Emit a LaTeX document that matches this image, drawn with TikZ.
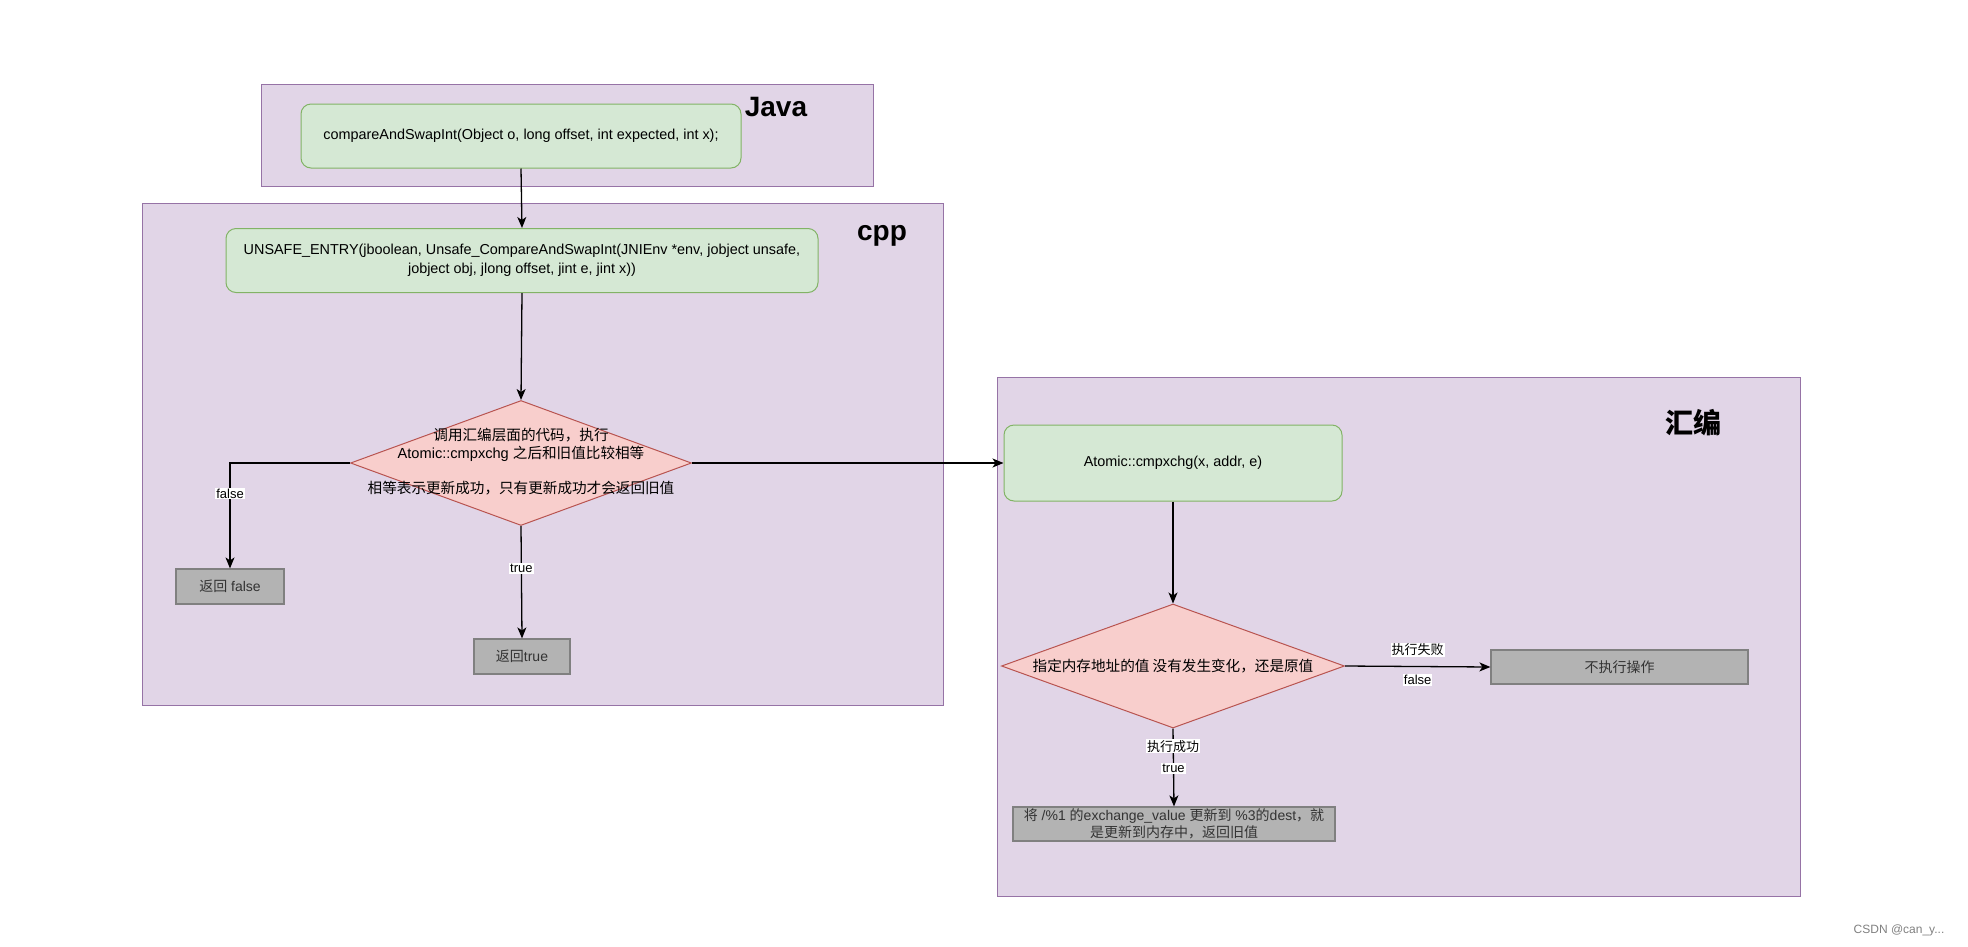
\documentclass[tikz,border=0pt]{standalone}
\usepackage{fontspec}
\setmainfont{Liberation Sans}
\newfontfamily\cjk{Noto Sans CJK SC}
\newcommand{\zh}[1]{{\cjk #1}}
\usetikzlibrary{shapes.geometric,arrows.meta}
\definecolor{grpfill}{HTML}{E1D5E7}
\definecolor{grpdraw}{HTML}{9673A6}
\definecolor{gfill}{HTML}{D5E8D4}
\definecolor{gdraw}{HTML}{82B366}
\definecolor{rfill}{HTML}{F8CECC}
\definecolor{rdraw}{HTML}{B85450}
\definecolor{bfill}{HTML}{B3B3B3}
\definecolor{bdraw}{HTML}{808080}
\definecolor{btext}{HTML}{333333}
\tikzset{
  grp/.style={draw=grpdraw, fill=grpfill, line width=1pt, minimum width=#1, inner sep=0pt},
  grouptitle/.style={font=\fontsize{28}{32}\selectfont\bfseries, inner sep=0pt},
  greenbox/.style={draw=gdraw, fill=gfill, line width=1pt, rounded corners=10pt, align=center, inner sep=0pt, font=\fontsize{14.4}{18.5}\selectfont},
  graybox/.style={draw=bdraw, fill=bfill, line width=1.2pt, align=center, inner sep=0pt, text=btext, font=\fontsize{14}{17}\selectfont},
  dia/.style={draw=rdraw, fill=rfill, line width=1pt, shape=diamond, inner sep=0pt},
  diatext/.style={align=center, inner sep=0pt, font=\fontsize{14.6}{18}\selectfont},
  conn/.style={line width=1.3pt, -{Stealth[length=11pt,width=9pt,inset=3pt]}},
  elabel/.style={fill=white, inner sep=1pt, font=\fontsize{13}{15}\selectfont}
}
\begin{document}
\begin{tikzpicture}[x=1pt, y=-1pt]
\useasboundingbox (0,0) rectangle (1968,946);
% groups
\node[grp=612pt, minimum height=102pt] (gjava) at (567,135) {};
\node[grp=801pt, minimum height=502pt] (gcpp) at (542.5,454) {};
\node[grp=803pt, minimum height=519pt] (gasm) at (1398.5,636.5) {};
\node[grouptitle] (tjava) at (776,107) {Java};
\node[grouptitle] (tcpp) at (882,236) {cpp};
\node[grouptitle] (tasm) at (1693,423) {\zh{汇编}};
% nodes
\node[greenbox, minimum width=440pt, minimum height=64pt] (java) at (521,136)
  {compareAndSwapInt(Object o, long offset, int expected, int x);};
\node[greenbox, minimum width=592pt, minimum height=64pt] (cppbox) at (522,260.5)
  {UNSAFE\_ENTRY(jboolean, Unsafe\_CompareAndSwapInt(JNIEnv *env, jobject unsafe,\\ jobject obj, jlong offset, jint e, jint x))};
\node[dia, minimum width=341pt, minimum height=125pt] (d1) at (521,463) {};
\node[diatext] (d1t) at (521,461.5)
  {\zh{调用汇编层面的代码，执行}\\ Atomic::cmpxchg \zh{之后和旧值比较相等}\\[17pt] \zh{相等表示更新成功，只有更新成功才会返回旧值}};
\node[graybox, minimum width=108pt, minimum height=35pt] (rfalse) at (230,586.5) {\zh{返回} false};
\node[graybox, minimum width=96pt, minimum height=35pt] (rtrue) at (522,656.5) {\zh{返回}true};
\node[greenbox, minimum width=338pt, minimum height=76pt] (atomic) at (1173,463) {Atomic::cmpxchg(x, addr, e)};
\node[dia, minimum width=343pt, minimum height=124pt] (d2) at (1173,666) {};
\node[diatext] (d2t) at (1173,666) {\zh{指定内存地址的值 没有发生变化，还是原值}};
\node[graybox, minimum width=257pt, minimum height=34pt] (noop) at (1619.5,667) {\zh{不执行操作}};
\node[graybox, minimum width=322pt, minimum height=34pt] (update) at (1174,824)
  {\zh{将} /\%1 \zh{的}exchange\_value \zh{更新到} \%3\zh{的}dest\zh{，就}\\ \zh{是更新到内存中，返回旧值}};
% connectors
\draw[conn] (java.south) -- (cppbox.north);
\draw[conn] (cppbox.south) -- (d1.north);
\coordinate (fcorner) at (rfalse.north |- d1.west);
\draw[conn] (d1.west) -- (fcorner) -- node[pos=0.29, elabel] {false} (rfalse.north);
\draw[conn] (d1.south) -- node[pos=0.38, elabel] {true} (rtrue.north);
\draw[conn] (d1.east) -- (atomic.west);
\draw[conn] (atomic.south) -- (d2.north);
\draw[conn] (d2.east) -- node[elabel, above=9pt] {\zh{执行失败}} node[elabel, below=7pt] {false} (noop.west);
\draw[conn] (d2.south) -- node[pos=0.23, elabel] {\zh{执行成功}} node[pos=0.51, elabel] {true} (update.north);
% watermark
\node[text=gray, font=\fontsize{12}{14}\selectfont, inner sep=0pt] (wm) at (1899,930) {CSDN @can\_y...};
\end{tikzpicture}
\end{document}
